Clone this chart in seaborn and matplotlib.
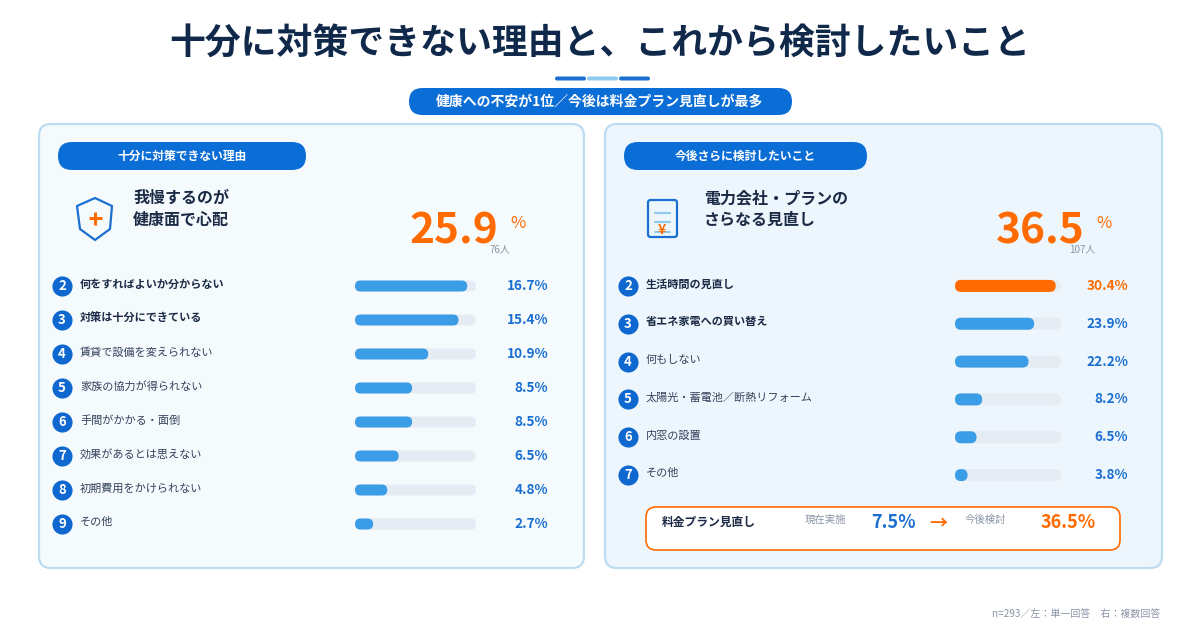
import matplotlib
matplotlib.use('Agg')
import matplotlib.pyplot as plt
import matplotlib.transforms as mtransforms
from matplotlib.patches import FancyBboxPatch, Polygon
import seaborn as sns

sns.set_theme(style='white')
plt.rcParams['font.family'] = ['Noto Sans CJK JP', 'DejaVu Sans']

# ---- data ----
title = '十分に対策できない理由と、これから検討したいこと'
subtitle = '健康への不安が1位／今後は料金プラン見直しが最多'
left_header = '十分に対策できない理由'
right_header = '今後さらに検討したいこと'

left_top_label = '我慢するのが\n健康面で心配'
left_top_value = 25.9
left_top_count = 76
right_top_label = '電力会社・プランの\nさらなる見直し'
right_top_value = 36.5
right_top_count = 107

left_ranks = [2, 3, 4, 5, 6, 7, 8, 9]
left_labels = ['何をすればよいか分からない', '対策は十分にできている', '賃貸で設備を変えられない',
               '家族の協力が得られない', '手間がかかる・面倒', '効果があるとは思えない',
               '初期費用をかけられない', 'その他']
left_values = [16.7, 15.4, 10.9, 8.5, 8.5, 6.5, 4.8, 2.7]

right_ranks = [2, 3, 4, 5, 6, 7]
right_labels = ['生活時間の見直し', '省エネ家電への買い替え', '何もしない',
                '太陽光・蓄電池／断熱リフォーム', '内窓の設置', 'その他']
right_values = [30.4, 23.9, 22.2, 8.2, 6.5, 3.8]

plan_label = '料金プラン見直し'
plan_now = 7.5
plan_future = 36.5
footer = 'n=293／左：単一回答　右：複数回答'

# ---- colours ----
NAVY = '#10294b'
PILL = '#0b6dd6'
CIRCLE = '#0e68cf'
BAR = '#3b9de6'
TRACK = '#e6ecf3'
ORANGE = '#ff6b00'
VALBLUE = '#1a6fd1'
TEXT = '#1b2a45'
TEXT2 = '#34425c'
GRAY = '#8a94a6'

fig = plt.figure(figsize=(12, 6.3), dpi=100)
fig.patch.set_facecolor('white')
ax0 = fig.add_axes([0, 0, 1, 1])
ax0.set_xlim(0, 1200)
ax0.set_ylim(630, 0)
ax0.axis('off')


def rbox(ax, x, y, w, h, r, fc, ec='none', lw=0, z=1):
    p = FancyBboxPatch((x, y), w, h, boxstyle=f'round,pad=0,rounding_size={r}',
                       fc=fc, ec=ec, lw=lw, zorder=z)
    ax.add_patch(p)
    return p


# title block
ax0.text(600, 44, title, ha='center', va='center', fontsize=25.8, fontweight='bold', color=NAVY)
for x0, c in [(555, '#1a6fd0'), (587, '#8ecbef'), (619, '#1a6fd0')]:
    rbox(ax0, x0, 76.5, 31, 4, 2, c, z=2)
rbox(ax0, 409, 88, 383, 27, 13.5, PILL, z=2)
ax0.text(600, 101.5, subtitle, ha='center', va='center', fontsize=10, fontweight='bold', color='white', zorder=3)

# panels
rbox(ax0, 39, 124, 545, 444, 12, '#f5fafd', '#bcdcf1', 1.6)
rbox(ax0, 605, 124, 557, 444, 12, '#edf6fc', '#bcdcf1', 1.6)
rbox(ax0, 58, 142, 248, 28, 14, PILL, z=2)
ax0.text(182, 156, left_header, ha='center', va='center', fontsize=8.5, fontweight='bold', color='white', zorder=3)
rbox(ax0, 624, 142, 243, 28, 14, PILL, z=2)
ax0.text(745.5, 156, right_header, ha='center', va='center', fontsize=8.5, fontweight='bold', color='white', zorder=3)

# shield icon
shield = Polygon([(95, 198), (112, 206), (110, 229), (95, 240), (80, 229), (77, 206)],
                 closed=True, fc='none', ec='#1a6fd0', lw=1.6, joinstyle='round', zorder=3)
ax0.add_patch(shield)
ax0.plot([88.5, 101.5], [218, 218], color=ORANGE, lw=2.2, solid_capstyle='butt', zorder=4)
ax0.plot([95, 95], [211.5, 224.5], color=ORANGE, lw=2.2, solid_capstyle='butt', zorder=4)

# bill icon
rbox(ax0, 648, 200, 29, 37, 2.5, 'none', '#1a6fd0', 1.6, z=3)
ax0.plot([655, 670], [213, 213], color='#8ecbef', lw=1.6, zorder=4)
ax0.plot([655, 670], [222, 222], color='#8ecbef', lw=1.6, zorder=4)
ax0.plot([655, 670], [232, 232], color='#8ecbef', lw=1.4, zorder=4)
ax0.text(662, 229.5, '¥', ha='center', va='center', fontsize=10, fontweight='bold', color=ORANGE, zorder=5)

# top answers
ax0.text(133, 209, left_top_label, ha='left', va='center', fontsize=11.5, fontweight='bold',
         color=TEXT, linespacing=1.45)
ax0.text(498, 243, f'{left_top_value}', ha='right', va='baseline', fontsize=30.5, fontweight='bold', color=ORANGE)
ax0.text(510, 228, '%', ha='left', va='baseline', fontsize=12, color=ORANGE)
ax0.text(500, 249, f'{left_top_count}人', ha='center', va='center', fontsize=7, color=GRAY)

ax0.text(704, 209, right_top_label, ha='left', va='center', fontsize=11.5, fontweight='bold',
         color=TEXT, linespacing=1.45)
ax0.text(1085, 243, f'{right_top_value}', ha='right', va='baseline', fontsize=30.5, fontweight='bold', color=ORANGE)
ax0.text(1096, 228, '%', ha='left', va='baseline', fontsize=12, color=ORANGE)
ax0.text(1082, 249, f'{right_top_count}人', ha='center', va='center', fontsize=7, color=GRAY)


def bar_panel(ranks, labels, values, vmax, colors, box, circle_x, label_x, value_x,
              value_colors, bar_px):
    x, top, w, h = box
    n = len(labels)
    ax = fig.add_axes([x / 1200, 1 - (top + h) / 630, w / 1200, h / 630])
    ax.patch.set_alpha(0)
    sns.barplot(x=[vmax] * n, y=labels, orient='h', color=TRACK, saturation=1,
                width=bar_px * n / h, ax=ax)
    sns.barplot(x=values, y=labels, hue=labels, palette=colors, orient='h', saturation=1,
                width=bar_px * n / h, legend=False, ax=ax)
    # round the bar ends
    xupp = vmax / w
    yupp = n / h
    for p in list(ax.patches):
        bx, by, bw, bh = p.get_x(), p.get_y(), p.get_width(), p.get_height()
        fc = p.get_facecolor()
        p.remove()
        r = min(bar_px / 2 * xupp, bw / 2)
        ax.add_patch(FancyBboxPatch((bx, by), bw, bh,
                                    boxstyle=f'round,pad=0,rounding_size={r}',
                                    mutation_aspect=yupp / xupp, fc=fc, ec='none'))
    blend = mtransforms.blended_transform_factory(ax0.transData, ax.transData)
    ax.scatter([circle_x] * n, list(range(n)), s=210, color=CIRCLE, transform=blend,
               clip_on=False, zorder=3, linewidths=0)
    for i, (rk, lab, v) in enumerate(zip(ranks, labels, values)):
        ax.text(circle_x, i, str(rk), ha='center', va='center', fontsize=9.5, fontweight='bold',
                color='white', transform=blend, zorder=4)
        bold = i < 2
        ax.text(label_x, i - 0.05, lab, ha='left', va='center', fontsize=8,
                fontweight='bold' if bold else 'normal', color=TEXT if bold else TEXT2,
                transform=blend, clip_on=False)
        ax.text(value_x, i, f'{v}%', ha='right', va='center', fontsize=9.8, fontweight='bold',
                color=value_colors[i], transform=blend, clip_on=False)
    ax.set_xlim(0, vmax)
    ax.set_ylim(n - 0.5, -0.5)
    ax.axis('off')
    return ax


bar_panel(left_ranks, left_labels, left_values, 18, [BAR] * len(left_values),
          (355, 269, 121, 272), 62, 80, 548, [VALBLUE] * len(left_values), 11)

right_colors = [ORANGE] + [BAR] * (len(right_values) - 1)
right_vcolors = [ORANGE] + [VALBLUE] * (len(right_values) - 1)
bar_panel(right_ranks, right_labels, right_values, 32, right_colors,
          (955, 267, 106, 227), 628, 646, 1128, right_vcolors, 12)

# plan box
rbox(ax0, 646, 507, 474, 43, 10, 'white', ORANGE, 1.2, z=2)
ax0.text(662, 522, plan_label, ha='left', va='center', fontsize=8.5, fontweight='bold', color=TEXT, zorder=3)
ax0.text(805, 520, '現在実施', ha='left', va='center', fontsize=7.5, color=GRAY, zorder=3)
ax0.text(916, 523, f'{plan_now}%', ha='right', va='center', fontsize=13, fontweight='bold', color=VALBLUE, zorder=3)
ax0.text(938, 523, '→', ha='center', va='center', fontsize=13, fontweight='bold', color=ORANGE, zorder=3)
ax0.text(965, 520, '今後検討', ha='left', va='center', fontsize=7.5, color=GRAY, zorder=3)
ax0.text(1096, 523, f'{plan_future}%', ha='right', va='center', fontsize=13, fontweight='bold', color=ORANGE, zorder=3)

ax0.text(1160, 614, footer, ha='right', va='center', fontsize=7.2, color=GRAY)

fig.savefig('out.png', dpi=100, facecolor='white')
